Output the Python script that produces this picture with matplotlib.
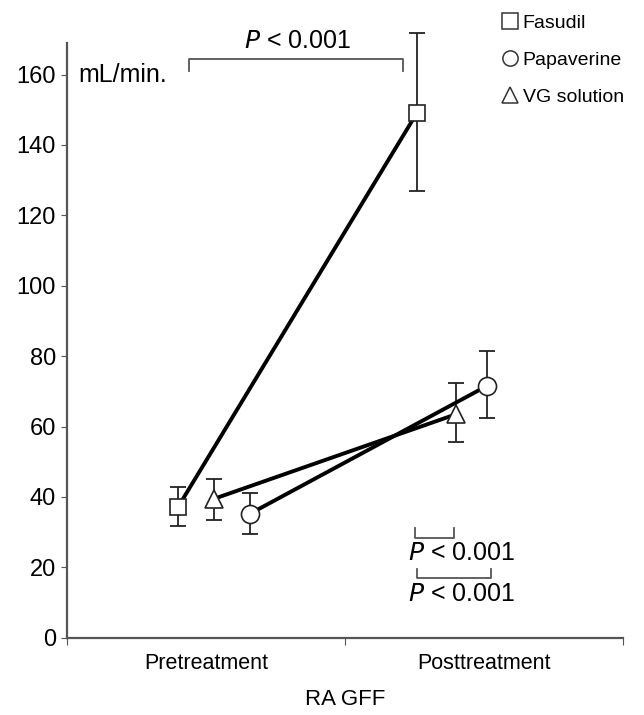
import matplotlib.pyplot as plt
from matplotlib.lines import Line2D

plt.rcParams['font.family'] = ['Liberation Sans', 'DejaVu Sans']

# ---------- Data ----------
groups = ['Fasudil', 'Papaverine', 'VG solution']
markers = ['s', 'o', '^']
categories = ['Pretreatment', 'Posttreatment']

# x offsets inside each category (categories sit at 0.5 and 1.5)
pos_pre = [0.40, 0.66, 0.53]
pos_post = [1.26, 1.51, 1.40]

mean_pre = [37.2, 35.3, 39.5]
mean_post = [149.2, 71.5, 63.5]
lo_pre = [31.8, 29.6, 33.5]
hi_pre = [42.7, 41.0, 45.0]
lo_post = [127.0, 62.3, 55.6]
hi_post = [171.7, 81.4, 72.3]

# ---------- Plot ----------
fig = plt.figure(figsize=(6.44, 7.15), dpi=100)
ax = fig.add_axes([0.104, 0.108, 0.863, 0.832])

for i in range(len(groups)):
    xs = [pos_pre[i], pos_post[i]]
    ys = [mean_pre[i], mean_post[i]]
    lo = [ys[0] - lo_pre[i], ys[1] - lo_post[i]]
    hi = [hi_pre[i] - ys[0], hi_post[i] - ys[1]]
    eb = ax.errorbar(xs, ys, yerr=[lo, hi], fmt='none', ecolor='#222222',
                     elinewidth=1.3, capsize=6, capthick=1.3, zorder=2)
    for art in eb.lines[1] + eb.lines[2]:
        art.set_clip_on(False)
    ax.plot(xs, ys, color='black', lw=2.8, zorder=3)
    ax.plot(xs, ys, linestyle='none', marker=markers[i], markersize=12 if i == 0 else 13,
            markerfacecolor='white', markeredgecolor='#222222', markeredgewidth=1.2, zorder=4)

# significance brackets
def ptext(x, y):
    ax.text(x, y, r'$\it{P}$' + ' < 0.001', ha='center', va='center', fontsize=18)

ax.plot([0.44, 0.44, 1.21, 1.21], [161.0, 164.3, 164.3, 161.0], color='#555555', lw=1.3)
ptext(0.83, 169.5)

ax.plot([1.253, 1.253, 1.393, 1.393], [31.2, 28.3, 28.3, 31.2], color='#555555', lw=1.3)
ptext(1.42, 24.2)
ax.plot([1.26, 1.26, 1.525, 1.525], [19.4, 16.9, 16.9, 19.4], color='#555555', lw=1.3)
ptext(1.42, 12.3)

ax.text(0.04, 160, 'mL/min.', ha='left', va='center', fontsize=18)

ax.set_xlim(0, 2)
ax.set_ylim(0, 169)
ax.set_yticks(range(0, 161, 20))
ax.set_xticks([0, 1, 2])
ax.set_xticklabels([])
ax.set_xticks([0.5, 1.5], minor=True)
ax.set_xticklabels(categories, minor=True)
ax.tick_params(axis='x', which='minor', length=0, labelsize=15.5, pad=11)
ax.tick_params(axis='x', which='major', length=5, color='#555555')
ax.tick_params(axis='y', length=4, color='#555555', labelsize=17, pad=4)
for side in ['top', 'right']:
    ax.spines[side].set_visible(False)
for side in ['left', 'bottom']:
    ax.spines[side].set_color('#555555')
    ax.spines[side].set_linewidth(1.6)
ax.set_xlabel('RA GFF', fontsize=16, labelpad=11)

handles = [Line2D([], [], linestyle='none', marker=m, markersize=11,
                  markerfacecolor='white', markeredgecolor='#333333', markeredgewidth=1.1)
           for m in markers]
fig.legend(handles, groups, loc='upper left', bbox_to_anchor=(0.75, 1.005),
           frameon=False, fontsize=14, handletextpad=0.15, labelspacing=1.0,
           handlelength=1.0)

fig.savefig('out.png', dpi=100)
